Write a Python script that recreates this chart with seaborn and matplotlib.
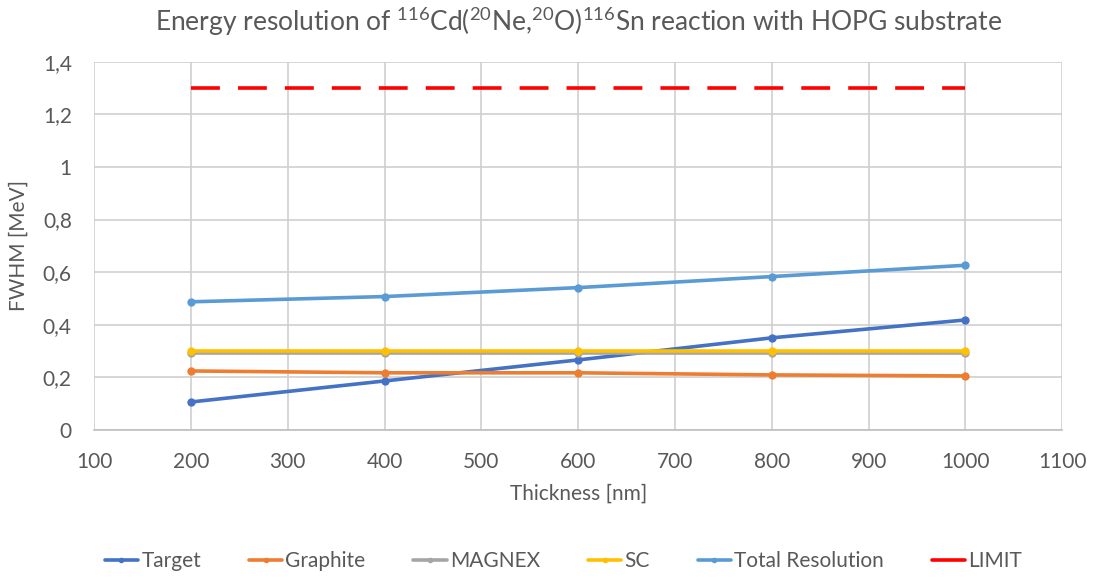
import numpy as np
import pandas as pd
import matplotlib
matplotlib.use("Agg")
import matplotlib.pyplot as plt
import seaborn as sns
from matplotlib.ticker import FuncFormatter, MultipleLocator
from matplotlib.lines import Line2D

thickness = [200, 400, 600, 800, 1000]
target = [0.106, 0.186, 0.266, 0.350, 0.418]
graphite = [0.224, 0.217, 0.217, 0.209, 0.205]
magnex = [0.293, 0.293, 0.293, 0.293, 0.293]
sc = [0.300, 0.300, 0.300, 0.300, 0.300]
total = [0.487, 0.507, 0.541, 0.583, 0.626]
limit = [1.3, 1.3, 1.3, 1.3, 1.3]

series_names = ["Target", "Graphite", "MAGNEX", "SC", "Total Resolution"]
series_vals = [target, graphite, magnex, sc, total]
colors = ["#4472C4", "#ED7D31", "#A5A5A5", "#FFC000", "#5B9BD5"]

sns.set_theme(style="white")
plt.rcParams['font.family'] = ['Lato', 'DejaVu Sans']
plt.rcParams['mathtext.fontset'] = 'custom'
plt.rcParams['mathtext.rm'] = 'Lato'
plt.rcParams['mathtext.it'] = 'Lato'

df = pd.DataFrame({
    "Thickness": np.tile(thickness, len(series_names)),
    "FWHM": np.concatenate(series_vals),
    "Series": np.repeat(series_names, len(thickness)),
})

fig = plt.figure(figsize=(10.94, 5.77), dpi=100)
ax = fig.add_axes([0.086, 0.255, 0.885, 0.638])

sns.lineplot(data=df, x="Thickness", y="FWHM", hue="Series", hue_order=series_names,
             palette=colors, marker="o", markersize=6, markeredgewidth=0,
             linewidth=2.6, ax=ax, legend=False, zorder=3)
sns.lineplot(x=thickness, y=limit, color="#FF0000", linewidth=2.6, ax=ax, zorder=3)
ax.lines[-1].set_dashes([8, 5])

ax.set_xlim(100, 1100)
ax.set_ylim(0, 1.4)
ax.xaxis.set_major_locator(MultipleLocator(100))
ax.yaxis.set_major_locator(MultipleLocator(0.2))
ax.yaxis.set_major_formatter(FuncFormatter(lambda v, p: ("%g" % round(v, 1)).replace(".", ",")))
ax.grid(True, color="#cfcfcf", linewidth=1.2)
ax.set_axisbelow(True)
for s in ["left", "right", "top"]:
    ax.spines[s].set_visible(False)
ax.spines["bottom"].set_color("#bfbfbf")
ax.spines["bottom"].set_linewidth(1.2)
ax.tick_params(axis="both", length=0, labelsize=15, colors="#595959")
ax.tick_params(axis="x", pad=16)
ax.tick_params(axis="y", pad=16)
ax.set_xlabel("Thickness [nm]", fontsize=15, color="#595959", labelpad=8)
ax.set_ylabel("FWHM [MeV]", fontsize=15, color="#595959", labelpad=10)
ax.set_title(r"Energy resolution of $^{116}$Cd($^{20}$Ne,$^{20}$O)$^{116}$Sn reaction with HOPG substrate",
             fontsize=19, color="#595959", pad=22)

handles = [Line2D([0], [0], color=c, linewidth=2.6, marker="o", markersize=4, markeredgewidth=0)
           for c in colors]
handles.append(Line2D([0], [0], color="#FF0000", linewidth=2.6))
labels = series_names + ["LIMIT"]
fig.legend(handles, labels, loc="center", bbox_to_anchor=(0.515, 0.028), ncol=6,
           frameon=False, fontsize=15, labelcolor="#595959", handlelength=1.6,
           handletextpad=0.15, columnspacing=2.3)

fig.savefig("out.png", dpi=100)
